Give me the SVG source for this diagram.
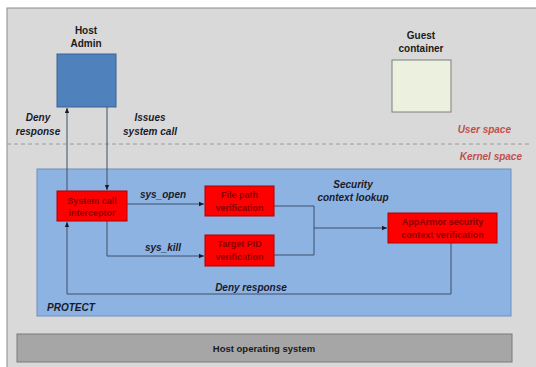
<svg xmlns="http://www.w3.org/2000/svg" width="536" height="367" viewBox="0 0 536 367">
<defs>
<style>
.lbl{font-family:"Liberation Sans",Arial,sans-serif;font-size:10px;font-weight:bold;font-style:italic;fill:#1a1a2a;text-anchor:middle}
.ttl{font-family:"Liberation Sans",Arial,sans-serif;font-size:10px;font-weight:bold;fill:#1a1a1a;text-anchor:middle}
.sp{font-family:"Liberation Sans",Arial,sans-serif;font-size:10px;font-weight:bold;font-style:italic;fill:#c0504d;text-anchor:end}
.red{fill:#ff0000;stroke:#b00000;stroke-width:1}
.rt{font-family:"Liberation Sans",Arial,sans-serif;font-size:9px;font-weight:bold;fill:#8a0000;text-anchor:middle}
.ln{fill:none;stroke:#3f4f66;stroke-width:1}
</style>
<marker id="ah" viewBox="0 0 8 8" refX="7" refY="4" markerWidth="6" markerHeight="6" orient="auto" markerUnits="userSpaceOnUse">
<path d="M0,1 L7,4 L0,7 z" fill="#1a1a2a"/>
</marker>
</defs>
<rect x="0" y="0" width="536" height="367" fill="#ffffff"/>
<rect x="7" y="8" width="535" height="365" fill="#d9d9d9" stroke="#8c8c8c" stroke-width="1"/>
<line x1="7" y1="144" x2="530" y2="144" stroke="#9a9a9a" stroke-width="1" stroke-dasharray="4,3"/>
<text class="sp" x="511" y="133">User space</text>
<text class="sp" x="522" y="160">Kernel space</text>

<g id="protect">
<rect x="37" y="169" width="474" height="147" fill="#8db3e2" stroke="#6d8fbf" stroke-width="1"/>
<text class="lbl" x="47" y="311" style="text-anchor:start">PROTECT</text>
</g>

<g id="host-admin">
<text class="ttl" x="86" y="34">Host</text>
<text class="ttl" x="86" y="47">Admin</text>
<rect x="57" y="54" width="59" height="53" fill="#4f81bd" stroke="#3a6291" stroke-width="1"/>
</g>

<g id="guest-container">
<text class="ttl" x="421" y="39">Guest</text>
<text class="ttl" x="421" y="52">container</text>
<rect x="392" y="60" width="59" height="52" fill="#ebf1de" stroke="#7f7f7f" stroke-width="1"/>
</g>

<g id="connectors">
<path class="ln" d="M67,191 L67,108" marker-end="url(#ah)"/>
<path class="ln" d="M107,107 L107,190" marker-end="url(#ah)"/>
<path class="ln" d="M127,204 L204,204" marker-end="url(#ah)"/>
<path class="ln" d="M107,221 L107,256 L204,256" marker-end="url(#ah)"/>
<path class="ln" d="M274,206 L314,206 L314,255 L274,255"/>
<path class="ln" d="M314,228 L387,228" marker-end="url(#ah)"/>
<path class="ln" d="M451,243 L451,294 L67,294 L67,222" marker-end="url(#ah)"/>
<text class="lbl" x="38" y="121">Deny</text>
<text class="lbl" x="38" y="135">response</text>
<text class="lbl" x="150" y="121">Issues</text>
<text class="lbl" x="150" y="135">system call</text>
<text class="lbl" x="163" y="198">sys_open</text>
<text class="lbl" x="163" y="251">sys_kill</text>
<text class="lbl" x="353" y="188">Security</text>
<text class="lbl" x="353" y="201">context lookup</text>
<text class="lbl" x="251" y="291">Deny response</text>
</g>

<g id="interceptor">
<rect class="red" x="57" y="191" width="70" height="30"/>
<text class="rt" x="92" y="204">System call</text>
<text class="rt" x="92" y="216">interceptor</text>
</g>

<g id="file-path">
<rect class="red" x="205" y="186" width="69" height="30"/>
<text class="rt" x="239.5" y="198">File path</text>
<text class="rt" x="239.5" y="211">verification</text>
</g>

<g id="target-pid">
<rect class="red" x="205" y="235" width="69" height="31"/>
<text class="rt" x="239.5" y="247">Target PID</text>
<text class="rt" x="239.5" y="260">verification</text>
</g>

<g id="apparmor">
<rect class="red" x="388" y="213" width="109" height="30"/>
<text class="rt" x="442.5" y="225">AppArmor security</text>
<text class="rt" x="442.5" y="238">context verification</text>
</g>

<g id="host-os">
<rect x="17" y="334" width="495" height="28" fill="#a6a6a6" stroke="#7a7a7a" stroke-width="1"/>
<text x="264" y="352" style="font-family:'Liberation Sans',Arial,sans-serif;font-size:9.5px;font-weight:bold;fill:#1a1a1a;text-anchor:middle">Host operating system</text>
</g>
</svg>
